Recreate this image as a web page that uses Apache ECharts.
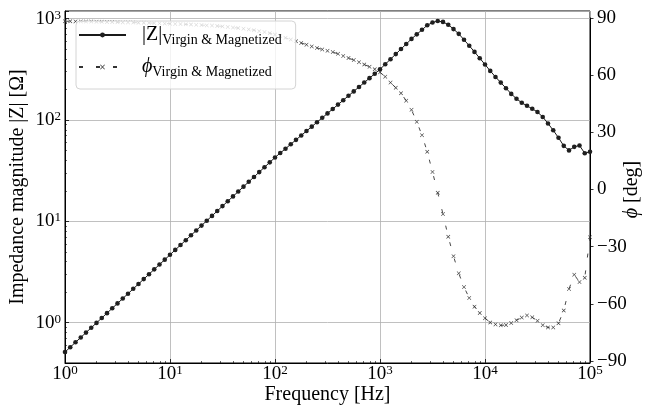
<!DOCTYPE html>
<html>
<head>
<meta charset="utf-8">
<script src="https://cdn.jsdelivr.net/npm/echarts@6/dist/echarts.min.js"></script>
<style>
html,body{margin:0;padding:0;background:#fff;}
#chart{width:649px;height:407px;}
</style>
</head>
<body>
<div id="chart"></div>
<script>
// Frequency [Hz]
const freq = [
1, 1.122, 1.259, 1.413, 1.585, 1.778, 1.995, 2.239, 2.512, 2.818, 3.162, 3.548, 3.981, 4.467, 5.012, 5.623, 6.310, 7.079, 7.943, 8.913,
10, 11.22, 12.59, 14.13, 15.85, 17.78, 19.95, 22.39, 25.12, 28.18, 31.62, 35.48, 39.81, 44.67, 50.12, 56.23, 63.10, 70.79, 79.43, 89.13,
100, 112.2, 125.9, 141.3, 158.5, 177.8, 199.5, 223.9, 251.2, 281.8, 316.2, 354.8, 398.1, 446.7, 501.2, 562.3, 631.0, 707.9, 794.3, 891.3,
1000, 1122, 1259, 1413, 1585, 1778, 1995, 2239, 2512, 2818, 3162, 3548, 3981, 4467, 5012, 5623, 6310, 7079, 7943, 8913,
10000, 11220, 12590, 14130, 15850, 17780, 19950, 22390, 25120, 28180, 31620, 35480, 39810, 44670, 50120, 56230, 63100, 70790, 79430, 89130,
100000];

// |Z| Virgin & Magnetized [Ohm]
const zMag = [
0.513, 0.573, 0.640, 0.715, 0.798, 0.891, 0.995, 1.112, 1.242, 1.387, 1.549, 1.730, 1.932, 2.158, 2.410, 2.692, 3.006, 3.357, 3.750, 4.188,
4.677, 5.224, 5.834, 6.516, 7.278, 8.128, 9.078, 10.14, 11.32, 12.65, 14.13, 15.78, 17.62, 19.68, 21.98, 24.55, 27.42, 30.62, 34.2, 38.19,
42.66, 47.2, 52.1, 57.6, 63.7, 70.4, 77.8, 86.0, 95.1, 105.1, 116.1, 128.4, 141.9, 156.8, 173.4, 191.6, 211.8, 234.1, 258.8, 286.1,
316, 355, 398, 447, 501, 562, 631, 700, 776, 861, 916, 948, 929, 871, 789, 708, 619, 541, 470, 407,
353, 305, 266, 234, 206, 181, 162, 148, 138, 129, 120, 107, 92.5, 79.1, 66.8, 55.6, 50.1, 54.3, 56.0, 47.0,
48.6];

// phi Virgin & Magnetized [deg]
const phase = [
88.3, 88.3, 88.2, 88.2, 88.1, 88.1, 88.0, 88.0, 87.9, 87.9, 87.8, 87.7, 87.7, 87.6, 87.5, 87.5, 87.4, 87.3, 87.2, 87.1,
87.0, 86.9, 86.8, 86.7, 86.6, 86.4, 86.3, 86.1, 86.0, 85.8, 85.6, 85.3, 85.0, 84.7, 84.4, 84.0, 83.6, 83.1, 82.6, 82.0,
81.3, 80.5, 79.6, 78.7, 77.8, 76.9, 76.0, 75.1, 74.3, 73.5, 72.8, 72.1, 71.2, 70.1, 69.0, 67.9, 66.8, 65.6, 64.4, 63.1,
61.5, 59.2, 56.1, 53.4, 50.5, 46.6, 41.8, 35.5, 28.5, 19.8, 9.2, -1.7, -12.9, -24.8, -35, -44, -51.2, -56.9, -61.5, -64.8,
-67.5, -69.8, -70.8, -71.3, -71.1, -70.1, -68.6, -67.2, -66.1, -67.1, -68.9, -71.2, -72.4, -72.4, -70.2, -63.5, -52.2, -44.7, -48.6, -46.3,
-25];

const phaseTicks = [-90, -60, -30, 0, 30, 60, 90];
const seriesNames = ['|Z|', 'ϕ'];
const legendSub = 'Virgin & Magnetized';

const FONT = '"Liberation Serif", "DejaVu Serif", serif';
const chart = echarts.init(document.getElementById('chart'), null, {renderer: 'canvas'});

function logLabel(v) {
  const l = Math.log10(v);
  const e = Math.round(l);
  if (Math.abs(l - e) > 1e-6) return '';
  return '{b|10}{s|' + e + '}';
}
const supRich = {
  b: {fontSize: 19, fontFamily: FONT, color: '#000', lineHeight: 20},
  s: {fontSize: 13, fontFamily: FONT, color: '#000', verticalAlign: 'top', lineHeight: 11}
};

const option = {
  animation: false,
  backgroundColor: '#fff',
  textStyle: {fontFamily: FONT},
  grid: [
    {left: 65, right: 59, top: 11, bottom: 44, show: true, borderColor: '#000', borderWidth: 1,
     backgroundColor: 'transparent', containLabel: false, outerBoundsMode: 'none'},
    {left: 65, right: 59, top: 18, bottom: 46, containLabel: false, outerBoundsMode: 'none'}
  ],
  legend: {
    orient: 'vertical',
    left: 76, top: 21,
    padding: [4, 14, 10, 2],
    itemGap: 10,
    itemWidth: 47,
    itemHeight: 6,
    backgroundColor: 'rgba(255,255,255,0.8)',
    borderColor: '#d4d4d4',
    borderWidth: 1,
    borderRadius: 4,
    data: seriesNames,
    formatter: function (name) {
      return (name === '|Z|' ? '{m|' + name + '}' : '{g|' + name + '}') + '{sub|' + legendSub + '}';
    },
    textStyle: {
      padding: [0, 0, 0, 11],
      rich: {
        m: {fontSize: 20, fontFamily: FONT, color: '#000', lineHeight: 24},
        g: {fontSize: 20, fontFamily: FONT, fontStyle: 'italic', color: '#000', lineHeight: 24},
        sub: {fontSize: 14, fontFamily: FONT, color: '#000', verticalAlign: 'bottom', lineHeight: 12}
      }
    }
  },
  xAxis: [
    {
      type: 'log', logBase: 10, min: 1, max: 100000, gridIndex: 0,
      name: 'Frequency [Hz]', nameLocation: 'middle', nameGap: 22, nameMoveOverlap: false,
      nameTextStyle: {fontSize: 20, fontFamily: FONT, color: '#000'},
      axisLine: {show: true, lineStyle: {color: '#000', width: 1}},
      axisTick: {show: true, inside: true, length: 4, lineStyle: {color: '#000', width: 0.8}},
      minorTick: {show: true, splitNumber: 9, length: 2, lineStyle: {color: '#000', width: 0.6}},
      splitLine: {show: true, lineStyle: {color: '#b0b0b0', width: 0.8}},
      axisLabel: {margin: 1, formatter: logLabel, rich: supRich, showMinLabel: true, showMaxLabel: true}
    },
    {
      type: 'log', logBase: 10, min: 1, max: 100000, gridIndex: 1, show: false
    }
  ],
  yAxis: [
    {
      type: 'log', logBase: 10, min: 0.4, max: 1190, gridIndex: 0, position: 'left',
      name: 'Impedance magnitude |Z| [Ω]', nameLocation: 'middle', nameGap: 37, nameMoveOverlap: false,
      nameTextStyle: {fontSize: 20, fontFamily: FONT, color: '#000'},
      axisLine: {show: true, lineStyle: {color: '#000', width: 1}},
      axisTick: {show: true, inside: true, length: 4, lineStyle: {color: '#000', width: 0.8}},
      minorTick: {show: true, splitNumber: 9, length: 2, lineStyle: {color: '#000', width: 0.6}},
      splitLine: {show: true, lineStyle: {color: '#b0b0b0', width: 0.8}},
      axisLabel: {margin: 4, formatter: logLabel, rich: supRich}
    },
    {
      type: 'value', min: -90, max: 90, interval: 30, gridIndex: 1, position: 'right',
      name: '{i|ϕ} [deg]', nameLocation: 'middle', nameGap: 32, nameRotate: 90, nameMoveOverlap: false,
      nameTextStyle: {fontSize: 20, fontFamily: FONT, color: '#000',
        rich: {i: {fontSize: 20, fontFamily: FONT, fontStyle: 'italic', color: '#000'}}},
      axisLine: {show: true, lineStyle: {color: '#000', width: 1}},
      axisTick: {show: true, inside: false, length: 3.5, lineStyle: {color: '#000', width: 0.8}},
      splitLine: {show: false},
      axisLabel: {margin: 7, fontSize: 19, fontFamily: FONT, color: '#000',
        formatter: function (v) { return v < 0 ? '\u2212' + Math.abs(v) : String(v); }}
    }
  ],
  series: [
    {
      name: '|Z|', type: 'line', xAxisIndex: 0, yAxisIndex: 0,
      data: freq.map((f, i) => [f, zMag[i]]),
      symbol: 'circle', symbolSize: 4.6, showSymbol: true,
      lineStyle: {color: '#1a1a1a', width: 1},
      itemStyle: {color: '#1f1f1f', borderWidth: 0},
      clip: false, z: 3
    },
    {
      name: 'ϕ', type: 'line', xAxisIndex: 1, yAxisIndex: 1,
      data: freq.map((f, i) => [f, phase[i]]),
      symbol: 'path://M0,1L1,0L5,4L9,0L10,1L6,5L10,9L9,10L5,6L1,10L0,9L4,5Z',
      symbolSize: 4, showSymbol: true,
      lineStyle: {color: '#333', width: 0.9, type: [4, 13]},
      itemStyle: {color: '#333', borderWidth: 0},
      clip: false, z: 2
    }
  ]
};
chart.setOption(option);
</script>
</body>
</html>
